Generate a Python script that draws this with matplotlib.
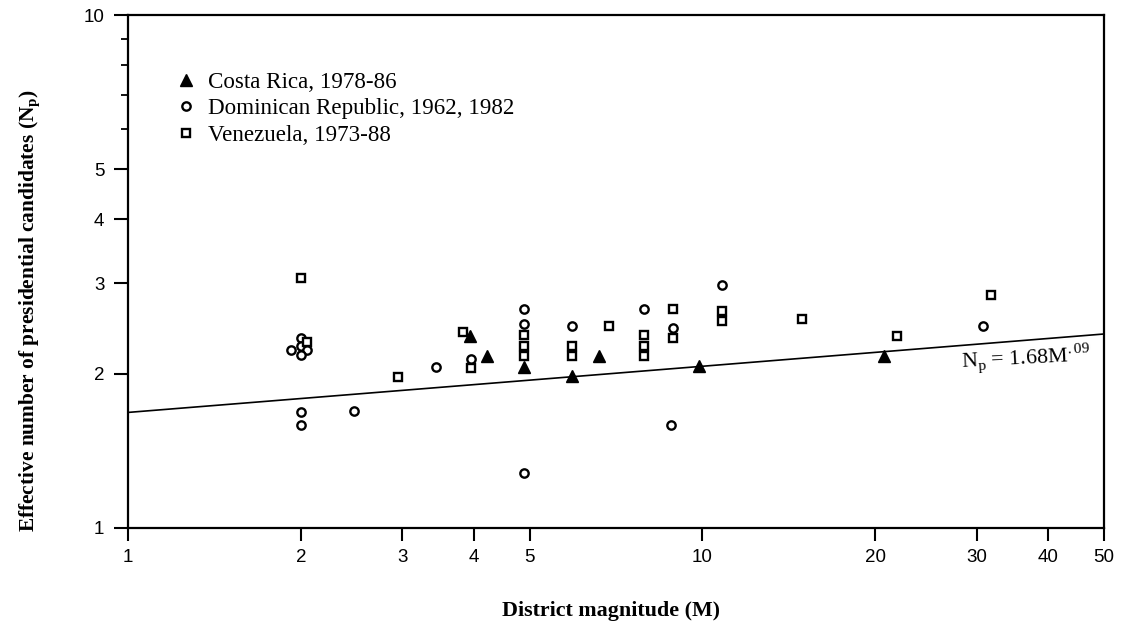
import numpy as np
import matplotlib
matplotlib.use("Agg")
import matplotlib.pyplot as plt
import matplotlib.ticker as ticker

plt.rcParams['mathtext.fontset'] = 'custom'
plt.rcParams['mathtext.rm'] = 'Liberation Serif'
plt.rcParams['mathtext.bf'] = 'Liberation Serif:bold'

# Costa Rica, 1978-86
cr_m = [3.94, 4.22, 4.9, 5.92, 6.61, 9.85, 20.7]
cr_np = [2.37, 2.16, 2.06, 1.98, 2.16, 2.07, 2.16]

# Dominican Republic, 1962, 1982
dr_m = [1.92, 2.0, 2.0, 2.05, 2.0, 2.0, 2.0, 2.47, 3.44, 3.96, 4.9, 4.9, 4.9,
        5.92, 7.9, 8.9, 8.8, 10.8, 30.8]
dr_np = [2.22, 2.35, 2.26, 2.22, 2.17, 1.68, 1.59, 1.69, 2.06, 2.14, 2.67, 2.50, 1.28,
         2.48, 2.67, 2.45, 1.59, 2.98, 2.48]

# Venezuela, 1973-88
ve_m = [2.0, 2.05, 2.95, 3.83, 3.96, 4.9, 4.9, 4.9, 5.92, 5.92, 6.88, 7.9, 7.9, 7.9,
        8.9, 8.9, 10.8, 10.8, 14.9, 21.8, 31.8]
ve_np = [3.07, 2.30, 1.97, 2.41, 2.05, 2.38, 2.26, 2.16, 2.26, 2.16, 2.48, 2.38, 2.26, 2.16,
         2.67, 2.35, 2.65, 2.53, 2.55, 2.37, 2.85]

# fitted line Np = 1.68 M^.09
fit_a = 1.68
fit_b = 0.09
fit_m = [1, 50]

x_ticks = [1, 2, 3, 4, 5, 10, 20, 30, 40, 50]
y_ticks = [1, 2, 3, 4, 5, 10]
y_minor = [6, 7, 8, 9]

fig = plt.figure(figsize=(11.21, 6.27), dpi=100)
ax = fig.add_axes([0.1142, 0.1579, 0.8706, 0.8181])

ax.plot(fit_m, [fit_a * m ** fit_b for m in fit_m], color='black', lw=1.2, zorder=1)

ax.plot(cr_m, cr_np, linestyle='none', marker='^', ms=8, color='black',
        label='Costa Rica, 1978-86', zorder=3)
ax.plot(dr_m, dr_np, linestyle='none', marker='o', ms=6, mfc='white', mec='black',
        mew=1.7, label='Dominican Republic, 1962, 1982', zorder=3)
ax.plot(ve_m, ve_np, linestyle='none', marker='s', ms=6, mfc='white', mec='black',
        mew=1.7, label='Venezuela, 1973-88', zorder=3)

ax.set_xscale('log')
ax.set_yscale('log')
ax.set_xlim(1, 50)
ax.set_ylim(1, 10)

ax.xaxis.set_major_locator(ticker.FixedLocator(x_ticks))
ax.xaxis.set_major_formatter(ticker.FixedFormatter([str(t) for t in x_ticks]))
ax.xaxis.set_minor_locator(ticker.NullLocator())
ax.yaxis.set_major_locator(ticker.FixedLocator(y_ticks))
ax.yaxis.set_major_formatter(ticker.FixedFormatter([str(t) for t in y_ticks]))
ax.yaxis.set_minor_locator(ticker.FixedLocator(y_minor))
ax.yaxis.set_minor_formatter(ticker.NullFormatter())

for s in ax.spines.values():
    s.set_linewidth(1.6)

ax.tick_params(axis='x', which='major', direction='out', length=9, width=1.5,
               pad=6, labelsize=13.5)
ax.tick_params(axis='y', which='major', direction='out', length=10, width=1.5,
               pad=7, labelsize=13.5)
ax.tick_params(axis='y', which='minor', direction='out', length=5, width=1.3)
for lab in ax.get_xticklabels() + ax.get_yticklabels():
    lab.set_fontfamily('Liberation Sans')

ax.set_xlabel('District magnitude (M)', fontfamily='Liberation Serif',
              fontweight='bold', fontsize=15.8)
ax.xaxis.set_label_coords(0.495, -0.142)
ax.set_ylabel(r'Effective number of presidential candidates (N$_\mathbf{p}$)',
              fontfamily='Liberation Serif', fontweight='bold', fontsize=15.4)
ax.yaxis.set_label_coords(-0.087, 0.425)

ax.text(28.1, 2.06, r'N$_\mathrm{p}$ = 1.68M$^{.09}$', fontfamily='Liberation Serif',
        fontsize=15.8, rotation=3)

ax.legend(loc='upper left', bbox_to_anchor=(0.026, 0.93), frameon=False,
          prop={'family': 'Liberation Serif', 'size': 16.6}, handletextpad=0.45,
          labelspacing=0.23, handlelength=1.0)

fig.savefig('out.png', dpi=100)
